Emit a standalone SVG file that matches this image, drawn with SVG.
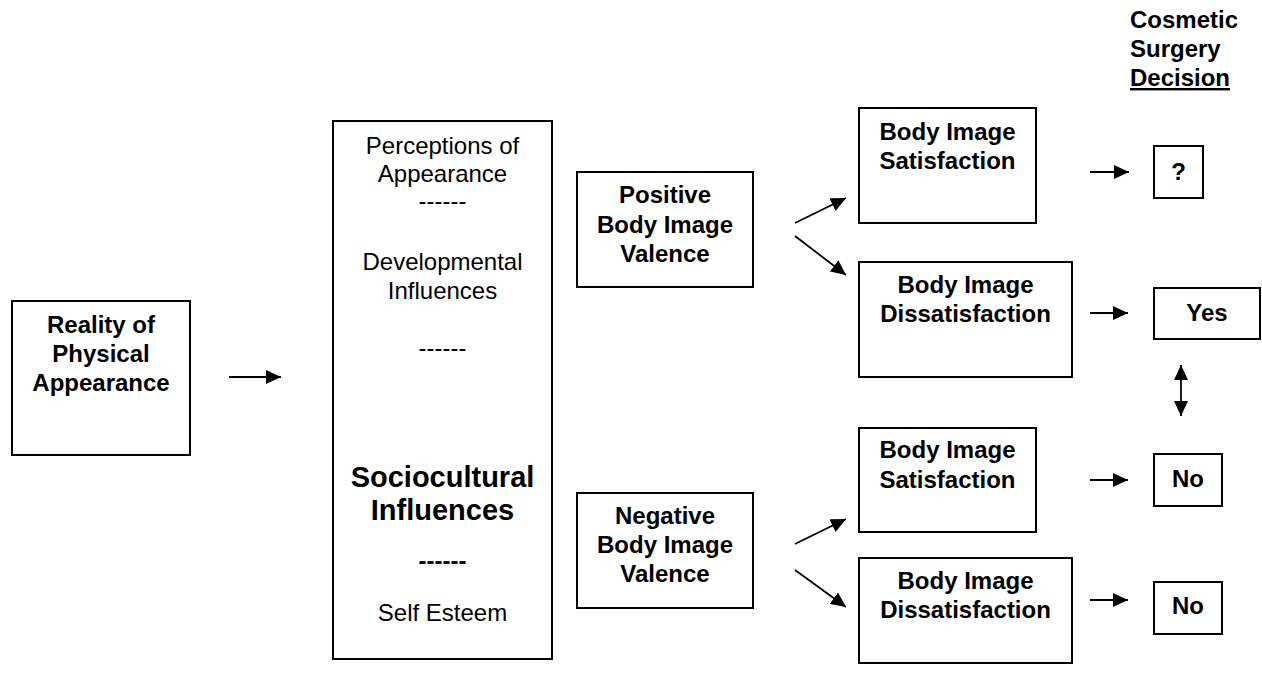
<svg xmlns="http://www.w3.org/2000/svg" width="1262" height="676" viewBox="0 0 1262 676">
<style>
  .box { fill: #ffffff; stroke: #000000; stroke-width: 2; }
  .t { font-family: "Liberation Sans", Arial, sans-serif; font-size: 24px; fill: #000000; text-anchor: middle; }
  .b { font-weight: bold; }
  .big { font-size: 29px; }
  .con { stroke: #000000; stroke-width: 1.8; fill: none; marker-end: url(#ah); }
  .dbl { marker-start: url(#ah); }
</style>
<defs>
  <marker id="ah" markerUnits="userSpaceOnUse" markerWidth="16" markerHeight="14" refX="15" refY="7" orient="auto-start-reverse">
    <path d="M0,0 L15,7 L0,14 Z" fill="#000000"/>
  </marker>
</defs>
<rect width="1262" height="676" fill="#ffffff"/>

<g id="reality">
  <rect class="box" x="12" y="301" width="178" height="154"/>
  <text class="t b" x="101" y="333">Reality of</text>
  <text class="t b" x="101" y="362">Physical</text>
  <text class="t b" x="101" y="391">Appearance</text>
</g>

<g id="influences">
  <rect class="box" x="333" y="121" width="219" height="538"/>
  <text class="t" x="442.5" y="154">Perceptions of</text>
  <text class="t" x="442.5" y="182">Appearance</text>
  <text class="t" x="442.5" y="209">------</text>
  <text class="t" x="442.5" y="270">Developmental</text>
  <text class="t" x="442.5" y="299">Influences</text>
  <text class="t" x="442.5" y="356">------</text>
  <text class="t b big" x="442.5" y="487">Sociocultural</text>
  <text class="t b big" x="442.5" y="520">Influences</text>
  <text class="t b" x="442.5" y="569">------</text>
  <text class="t" x="442.5" y="621">Self Esteem</text>
</g>

<g id="positive">
  <rect class="box" x="577" y="172" width="176" height="115"/>
  <text class="t b" x="665" y="203">Positive</text>
  <text class="t b" x="665" y="233">Body Image</text>
  <text class="t b" x="665" y="262">Valence</text>
</g>

<g id="negative">
  <rect class="box" x="577" y="493" width="176" height="115"/>
  <text class="t b" x="665" y="524">Negative</text>
  <text class="t b" x="665" y="553">Body Image</text>
  <text class="t b" x="665" y="582">Valence</text>
</g>

<g id="pos-satisfaction">
  <rect class="box" x="859" y="108" width="177" height="115"/>
  <text class="t b" x="947.5" y="140">Body Image</text>
  <text class="t b" x="947.5" y="169">Satisfaction</text>
</g>

<g id="pos-dissatisfaction">
  <rect class="box" x="859" y="262" width="213" height="115"/>
  <text class="t b" x="965.5" y="293">Body Image</text>
  <text class="t b" x="965.5" y="322">Dissatisfaction</text>
</g>

<g id="neg-satisfaction">
  <rect class="box" x="859" y="428" width="177" height="104"/>
  <text class="t b" x="947.5" y="458">Body Image</text>
  <text class="t b" x="947.5" y="488">Satisfaction</text>
</g>

<g id="neg-dissatisfaction">
  <rect class="box" x="859" y="558" width="213" height="105"/>
  <text class="t b" x="965.5" y="589">Body Image</text>
  <text class="t b" x="965.5" y="618">Dissatisfaction</text>
</g>

<g id="decision-title">
  <text class="t b" x="1130" y="28" style="text-anchor:start">Cosmetic</text>
  <text class="t b" x="1130" y="57" style="text-anchor:start">Surgery</text>
  <text class="t b" x="1130" y="86" style="text-anchor:start" text-decoration="underline">Decision</text>
</g>

<g id="unknown">
  <rect class="box" x="1154" y="146" width="49" height="52"/>
  <text class="t b" x="1178.5" y="180">?</text>
</g>

<g id="yes">
  <rect class="box" x="1154" y="288" width="106" height="51"/>
  <text class="t b" x="1207" y="321">Yes</text>
</g>

<g id="no1">
  <rect class="box" x="1154" y="454" width="68" height="52"/>
  <text class="t b" x="1188" y="487">No</text>
</g>

<g id="no2">
  <rect class="box" x="1154" y="582" width="68" height="52"/>
  <text class="t b" x="1188" y="614">No</text>
</g>

<g id="connectors">
  <line class="con" x1="229" y1="377" x2="281" y2="377"/>
  <line class="con" x1="795" y1="223" x2="846" y2="198"/>
  <line class="con" x1="795" y1="236" x2="846" y2="275"/>
  <line class="con" x1="795" y1="544" x2="846" y2="519"/>
  <line class="con" x1="795" y1="570" x2="846" y2="607"/>
  <line class="con" x1="1090" y1="172" x2="1129" y2="172"/>
  <line class="con" x1="1090" y1="313" x2="1128" y2="313"/>
  <line class="con" x1="1090" y1="480" x2="1128" y2="480"/>
  <line class="con" x1="1090" y1="600" x2="1128" y2="600"/>
  <line class="con dbl" x1="1181" y1="365" x2="1181" y2="416"/>
</g>
</svg>
